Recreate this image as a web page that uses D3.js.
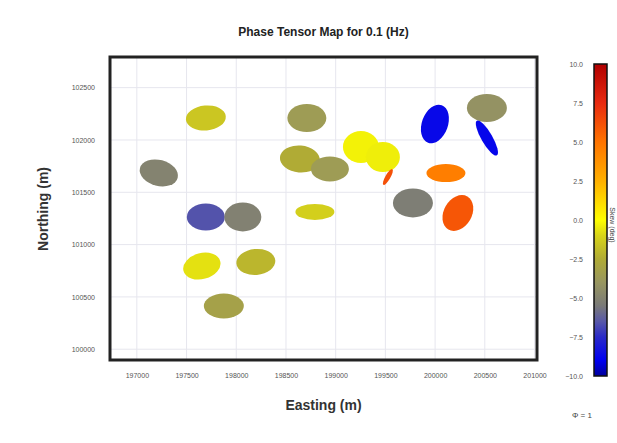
<!DOCTYPE html>
<html>
<head>
<meta charset="utf-8">
<script src="https://cdn.jsdelivr.net/npm/d3@7"></script>
<style>
  body { margin: 0; background: #fff; }
  svg { font-family: "Liberation Sans", Arial, sans-serif; }
</style>
</head>
<body>
<div id="chart"></div>
<script>
// Station locations (m)
const easting = [197221, 197694, 198710, 198640, 198942, 197694, 198066, 198791, 197654, 198197,
  197875, 199254, 199475, 199525, 199777, 199998, 200521, 200521, 200109, 200229];
const northing = [101685, 102210, 102210, 101818, 101723, 101264, 101264, 101312, 100795, 100834,
  100413, 101933, 101837, 101646, 101398, 102153, 102306, 102019, 101684, 101302];
// Skew angle (deg), used for colour
const skew = [-5.0, -1.5, -3.6, -2.5, -3.6, -6.6, -5.1, -1.2, -0.7, -2.1,
  -3.2, -0.3, -0.4, 6.2, -5.3, -8.7, -4.2, -8.8, 4.6, 6.0];
// Ellipse axes (phimax, phimin) and azimuth (deg)
const phiMax = [19.5, 20, 19.5, 20, 19, 19, 18.5, 19.5, 19, 19.5,
  20, 18, 17, 9, 20, 20, 20, 20, 19.5, 19];
const phiMin = [13, 12.5, 14, 13.5, 12.5, 13.5, 14.5, 8, 13, 13,
  12.5, 16, 15, 2.5, 14.5, 13, 14, 5.5, 9, 14];
const azimuth = [15, -5, 0, 5, 0, 0, 0, 0, -15, -5,
  0, 0, 0, -60, 0, 110, 0, 60, 0, -60];

const xTicks = [197000, 197500, 198000, 198500, 199000, 199500, 200000, 200500, 201000];
const yTicks = [100000, 100500, 101000, 101500, 102000, 102500];
const cbTicks = [-10, -7.5, -5, -2.5, 0, 2.5, 5, 7.5, 10];

// colormap stops (skew -> colour)
const cmapStops = [-10, -9, -7.5, -6.5, -5.5, -4, -2.5, -1, 0, 2.5, 5, 7.5, 10];
const cmapColors = ["#00009a", "#0000f0", "#2a2ac8", "#5858a8", "#7a7a78", "#989660", "#b0ab35",
  "#d8d418", "#ffff00", "#ffb000", "#ff7400", "#e82a10", "#b00000"];

const W = 617, H = 443;
const plot = { left: 110, top: 57, right: 537, bottom: 360 };

const svg = d3.select("#chart").append("svg")
  .attr("width", W).attr("height", H);

const x = d3.scaleLinear().domain([196730, 201025]).range([plot.left, plot.right]);
const y = d3.scaleLinear().domain([99897, 102793]).range([plot.bottom, plot.top]);
const r = d3.scaleLinear().domain([0, 20]).range([0, 20]);
const color = d3.scaleLinear().domain(cmapStops).range(cmapColors).clamp(true);

// grid lines
const grid = svg.append("g");
grid.selectAll("line.gx").data(xTicks).enter().append("line")
  .attr("x1", d => x(d)).attr("x2", d => x(d))
  .attr("y1", plot.top).attr("y2", plot.bottom)
  .attr("stroke", "#e6e6ee").attr("stroke-width", 1);
grid.selectAll("line.gy").data(yTicks).enter().append("line")
  .attr("y1", d => y(d)).attr("y2", d => y(d))
  .attr("x1", plot.left).attr("x2", plot.right)
  .attr("stroke", "#e6e6ee").attr("stroke-width", 1);

// ellipses
const stations = easting.map((e, i) => ({
  e, n: northing[i], skew: skew[i], a: phiMax[i], b: phiMin[i], az: azimuth[i]
}));
svg.append("g").selectAll("ellipse").data(stations).enter().append("ellipse")
  .attr("transform", d => `translate(${x(d.e)},${y(d.n)}) rotate(${d.az})`)
  .attr("rx", d => r(d.a))
  .attr("ry", d => r(d.b))
  .attr("fill", d => color(d.skew));

// frame
svg.append("rect")
  .attr("x", plot.left).attr("y", plot.top)
  .attr("width", plot.right - plot.left).attr("height", plot.bottom - plot.top)
  .attr("fill", "none").attr("stroke", "#222").attr("stroke-width", 3);

// axes (labels only)
const xAxis = svg.append("g")
  .attr("transform", `translate(0,${plot.bottom + 10})`)
  .call(d3.axisBottom(x).tickValues(xTicks).tickSize(0).tickFormat(d3.format("d")));
const yAxis = svg.append("g")
  .attr("transform", `translate(${plot.left - 12},0)`)
  .call(d3.axisLeft(y).tickValues(yTicks).tickSize(0).tickFormat(d3.format("d")));
[xAxis, yAxis].forEach(g => {
  g.select(".domain").remove();
  g.selectAll("text").attr("fill", "#555").style("font-size", "7px");
});

// titles
svg.append("text").attr("x", 323.5).attr("y", 36)
  .attr("text-anchor", "middle").style("font-size", "12px").style("font-weight", "bold")
  .attr("fill", "#222").text("Phase Tensor Map for 0.1 (Hz)");
svg.append("text").attr("x", 323.5).attr("y", 410)
  .attr("text-anchor", "middle").style("font-size", "14px").style("font-weight", "bold")
  .attr("fill", "#333").text("Easting (m)");
svg.append("text").attr("transform", "translate(48,209) rotate(-90)")
  .attr("text-anchor", "middle").style("font-size", "14px").style("font-weight", "bold")
  .attr("fill", "#333").text("Northing (m)");

// colorbar
const cb = { x: 594, w: 13, top: 64, bottom: 376 };
const cy = d3.scaleLinear().domain([-10, 10]).range([cb.bottom, cb.top]);
const defs = svg.append("defs");
const grad = defs.append("linearGradient").attr("id", "cbgrad")
  .attr("x1", 0).attr("y1", 1).attr("x2", 0).attr("y2", 0);
grad.selectAll("stop").data(cmapStops).enter().append("stop")
  .attr("offset", d => (d + 10) / 20)
  .attr("stop-color", d => color(d));
svg.append("rect")
  .attr("x", cb.x).attr("y", cb.top).attr("width", cb.w).attr("height", cb.bottom - cb.top)
  .attr("fill", "url(#cbgrad)").attr("stroke", "#111").attr("stroke-width", 1.5);
svg.append("g").selectAll("text").data(cbTicks).enter().append("text")
  .attr("x", 583).attr("y", d => cy(d) + 2.5)
  .attr("text-anchor", "end").style("font-size", "7px").attr("fill", "#555")
  .text(d => d3.format(".1f")(d));
svg.append("text").attr("transform", "translate(610,225) rotate(90)")
  .attr("text-anchor", "middle").style("font-size", "7px").attr("fill", "#444")
  .text("Skew (deg)");

svg.append("text").attr("x", 582).attr("y", 418)
  .attr("text-anchor", "middle").style("font-size", "8px").attr("fill", "#444")
  .text("Φ = 1");
</script>
</body>
</html>
